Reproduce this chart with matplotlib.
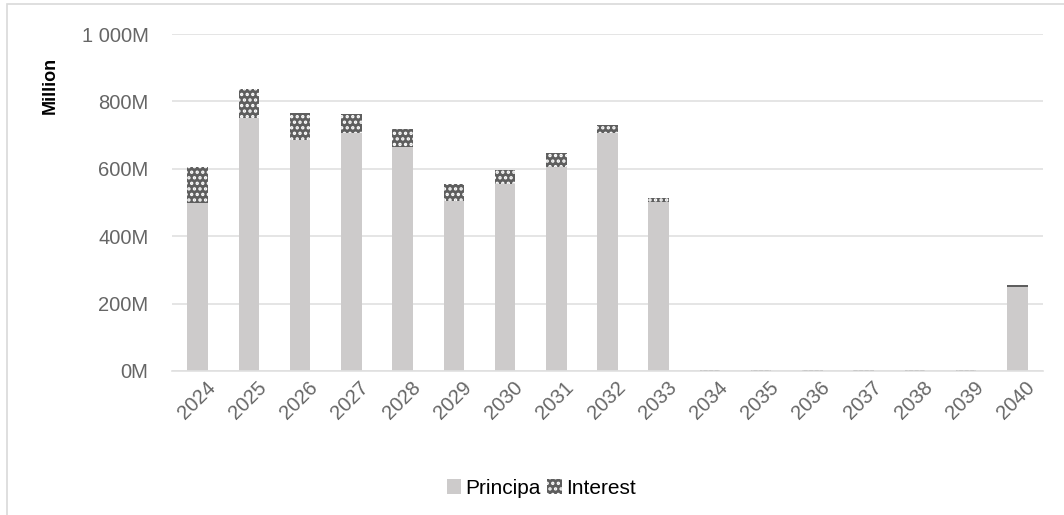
import matplotlib
matplotlib.use("Agg")
import matplotlib.pyplot as plt
from matplotlib.patches import Rectangle
from matplotlib.ticker import FuncFormatter
from matplotlib.transforms import ScaledTranslation

years = ["2024", "2025", "2026", "2027", "2028", "2029", "2030", "2031", "2032",
         "2033", "2034", "2035", "2036", "2037", "2038", "2039", "2040"]
principal = [500, 752, 685, 705, 666, 505, 555, 605, 705, 502, 0, 0, 0, 0, 0, 0, 250]
interest = [105, 84, 82, 58, 52, 50, 41, 42, 25, 10, 3, 3, 3, 3, 3, 2, 4]
yticks = [0, 200, 400, 600, 800, 1000]

plt.rcParams['font.family'] = ['Liberation Sans', 'DejaVu Sans']
plt.rcParams['hatch.linewidth'] = 1.6
fig = plt.figure(figsize=(10.64, 5.15), dpi=100)
ax = fig.add_axes([172/1064, 1 - 371/515, (1043-172)/1064, (371-34)/515])

x = list(range(len(years)))
ax.bar(x, principal, width=0.4, color='#cdcbcb', label='Principa', zorder=2)
ax.bar(x, interest, width=0.4, bottom=principal, facecolor='#5e5e5e', edgecolor='white',
       hatch='...', linewidth=0, label='Interest', zorder=2)

ax.set_xlim(-0.5, len(years) - 0.5)
ax.set_ylim(0, 1000)
ax.set_yticks(yticks)

def fmt(v, pos):
    v = int(v)
    s = f"{v:,}".replace(",", " ")
    return s + "M"
ax.yaxis.set_major_formatter(FuncFormatter(fmt))
ax.set_xticks(x)
ax.set_xticklabels(years, rotation=45, ha='right', rotation_mode='anchor')
ax.tick_params(axis='both', length=0, colors='#666666', labelsize=14.5)
ax.tick_params(axis='y', pad=17)
ax.tick_params(axis='x', pad=5)
offset = ScaledTranslation(8/100, 0, fig.dpi_scale_trans)
for lbl in ax.get_xticklabels():
    lbl.set_transform(lbl.get_transform() + offset)
ax.grid(axis='y', color='#e0e0e0', linewidth=1.2, zorder=0)
for s in ['top', 'right', 'left']:
    ax.spines[s].set_visible(False)
ax.spines['bottom'].set_color('#e0e0e0')
ax.spines['bottom'].set_linewidth(1.2)

fig.text(50/1064, 1 - 85/515, 'Million', rotation=90, fontsize=13, fontweight='bold',
         ha='center', va='center', color='black')

fig.legend(loc='center', bbox_to_anchor=(541/1064, 1 - 488/515), ncol=2, frameon=False,
           fontsize=15, handlelength=0.7, handleheight=0.7, handletextpad=0.2,
           columnspacing=0.3)

fig.patches.append(Rectangle((7/1064, -0.1), 1.2, 1 - 4/515 + 0.1, transform=fig.transFigure,
                             fill=False, edgecolor='#d9d9d9', linewidth=1.2))

fig.savefig('out.png', dpi=100)
